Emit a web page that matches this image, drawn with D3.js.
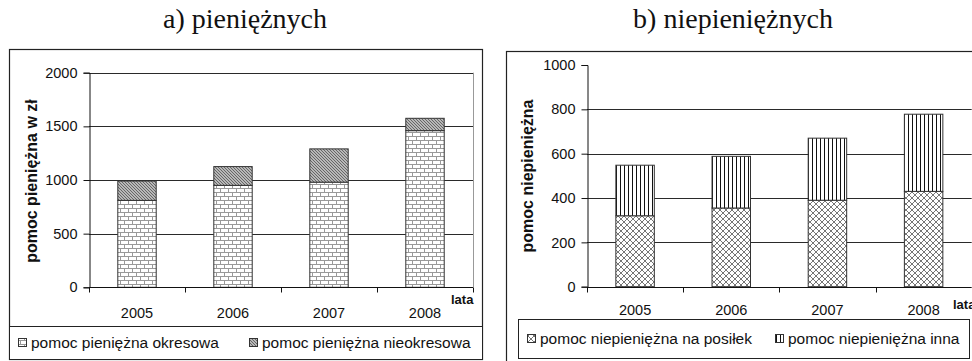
<!DOCTYPE html>
<html>
<head>
<meta charset="utf-8">
<script src="https://cdn.jsdelivr.net/npm/d3@7"></script>
<style>
  html, body { margin: 0; padding: 0; background: #fff; }
  svg { display: block; }
  text { font-family: "Liberation Sans", Arial, sans-serif; fill: #111; }
  .title { font-family: "Liberation Serif", "Times New Roman", serif; font-size: 28px; }
</style>
</head>
<body>
<svg id="chart" width="972" height="361"></svg>
<script>
// Years on the category axis (shared by both panels)
const years = ["2005", "2006", "2007", "2008"];

// a) cash assistance, PLN
const cashPeriodic = [810, 950, 980, 1460];
const cashOneOff = [180, 175, 310, 115];
const cashTicks = [0, 500, 1000, 1500, 2000];

// b) in-kind assistance
const inKindMeals = [320, 355, 390, 430];
const inKindOther = [228, 233, 280, 348];
const inKindTicks = [0, 200, 400, 600, 800, 1000];

const svg = d3.select("#chart");
const defs = svg.append("defs");

// ---- fill patterns ----
function brickPattern(id) {
  const p = defs.append("pattern").attr("id", id).attr("patternUnits", "userSpaceOnUse")
    .attr("width", 8).attr("height", 8);
  p.append("rect").attr("width", 8).attr("height", 8).attr("fill", "#fff");
  p.append("path").attr("d", "M0,0.5H8M0,4.5H8M0.5,0.5V4.5M4.5,4.5V8.5")
    .attr("stroke", "#999").attr("stroke-width", 1).attr("fill", "none");
}
function diagPattern(id) {
  const p = defs.append("pattern").attr("id", id).attr("patternUnits", "userSpaceOnUse")
    .attr("width", 3).attr("height", 3);
  p.append("rect").attr("width", 3).attr("height", 3).attr("fill", "#b8b8b8");
  p.append("path").attr("d", "M-1,-1L4,4M-1,2L1,4M2,-1L4,1")
    .attr("stroke", "#666").attr("stroke-width", 1);
}
function crossPattern(id) {
  const p = defs.append("pattern").attr("id", id).attr("patternUnits", "userSpaceOnUse")
    .attr("width", 6).attr("height", 6);
  p.append("rect").attr("width", 6).attr("height", 6).attr("fill", "#fff");
  p.append("path").attr("d", "M0,0L6,6M6,0L0,6")
    .attr("stroke", "#666").attr("stroke-width", 0.9);
}
function vlinePattern(id) {
  const p = defs.append("pattern").attr("id", id).attr("patternUnits", "userSpaceOnUse")
    .attr("width", 4).attr("height", 4);
  p.append("rect").attr("width", 4).attr("height", 4).attr("fill", "#fff");
  p.append("path").attr("d", "M0.5,0V4").attr("stroke", "#111").attr("stroke-width", 1);
}
brickPattern("brick");
diagPattern("diag");
crossPattern("cross");
vlinePattern("vline");

// ---- one stacked-bar panel ----
function panel(cfg) {
  const g = svg.append("g");

  // outer frame
  g.append("rect").attr("x", cfg.frame[0] + 0.5).attr("y", cfg.frame[1] + 0.5)
    .attr("width", cfg.frame[2]).attr("height", cfg.frame[3])
    .attr("fill", "none").attr("stroke", "#222").attr("stroke-width", 1.2);

  // title
  svg.append("text").attr("class", "title").attr("x", cfg.titleX).attr("y", 28)
    .attr("text-anchor", "middle").text(cfg.title);

  const x = d3.scaleBand().domain(years).range([cfg.left, cfg.right]).padding(0);
  const y = d3.scaleLinear().domain([0, cfg.max]).range([cfg.bottom, cfg.top]);

  // horizontal gridlines
  g.append("g").selectAll("line").data(cfg.grid).join("line")
    .attr("x1", cfg.left).attr("x2", cfg.right)
    .attr("y1", d => Math.round(y(d)) + 0.5).attr("y2", d => Math.round(y(d)) + 0.5)
    .attr("stroke", "#2a2a2a").attr("stroke-width", 1);

  if (cfg.rightBorder) {
    g.append("line").attr("x1", cfg.right + 0.5).attr("x2", cfg.right + 0.5)
      .attr("y1", cfg.top).attr("y2", cfg.bottom).attr("stroke", "#999");
  }

  // stacked bars
  const bw = x.bandwidth() * 0.4;
  const stack = years.map((yr, i) => ({ yr, a: cfg.lower[i], b: cfg.upper[i] }));
  const bars = g.append("g");
  bars.selectAll("rect.lo").data(stack).join("rect").attr("class", "lo")
    .attr("x", d => x(d.yr) + (x.bandwidth() - bw) / 2)
    .attr("width", bw)
    .attr("y", d => y(d.a)).attr("height", d => y(0) - y(d.a))
    .attr("fill", `url(#${cfg.lowerFill})`).attr("stroke", "#333").attr("stroke-width", 1);
  bars.selectAll("rect.hi").data(stack).join("rect").attr("class", "hi")
    .attr("x", d => x(d.yr) + (x.bandwidth() - bw) / 2)
    .attr("width", bw)
    .attr("y", d => y(d.a + d.b)).attr("height", d => y(d.a) - y(d.a + d.b))
    .attr("fill", `url(#${cfg.upperFill})`).attr("stroke", "#333").attr("stroke-width", 1);

  // y axis
  const ya = g.append("g").attr("transform", `translate(${cfg.left + 0.5},0)`)
    .call(d3.axisLeft(y).tickValues(cfg.ticks).tickSize(6).tickPadding(6).tickFormat(d3.format("d")));
  ya.select(".domain").attr("stroke", "#111");
  ya.selectAll(".tick line").attr("stroke", "#111");
  ya.selectAll(".tick text").attr("font-size", 14.5).attr("fill", "#111");

  // x axis: ticks at category boundaries, labels centred
  const xa = g.append("g").attr("transform", `translate(0,${Math.round(cfg.bottom) + 0.5})`);
  xa.append("line").attr("x1", cfg.left).attr("x2", cfg.right).attr("stroke", "#111");
  const bounds = years.map(d => x(d)).concat([cfg.right]);
  xa.selectAll("line.tk").data(bounds).join("line").attr("class", "tk")
    .attr("x1", d => Math.round(d) + 0.5).attr("x2", d => Math.round(d) + 0.5)
    .attr("y1", 0).attr("y2", 5).attr("stroke", "#111");
  xa.selectAll("text").data(years).join("text")
    .attr("x", d => x(d) + x.bandwidth() / 2).attr("y", cfg.labelDy)
    .attr("text-anchor", "middle").attr("font-size", 14.5).text(d => d);

  // axis titles
  g.append("text").attr("x", cfg.lataX).attr("y", cfg.lataY)
    .attr("font-size", 13).attr("font-weight", "bold").text("lata");
  g.append("text")
    .attr("transform", `translate(${cfg.yTitleX},${cfg.yTitleY}) rotate(-90)`)
    .attr("text-anchor", "middle").attr("font-size", 16).attr("font-weight", "bold")
    .text(cfg.yTitle);

  // legend
  const L = cfg.legend;
  g.append("rect").attr("x", L.box[0] + 0.5).attr("y", L.box[1] + 0.5)
    .attr("width", L.box[2]).attr("height", L.box[3])
    .attr("fill", "#fff").attr("stroke", "#222");
  L.items.forEach(it => {
    g.append("rect").attr("x", it.x + 0.5).attr("y", L.iconY + 0.5).attr("width", 8).attr("height", 8)
      .attr("fill", `url(#${it.fill})`).attr("stroke", "#333");
    g.append("text").attr("x", it.x + 13).attr("y", L.textY)
      .attr("font-size", 15.5).text(it.label);
  });
}

panel({
  title: "a) pieniężnych", titleX: 245,
  frame: [9, 49, 473, 310],
  left: 89, right: 473, top: 72.7, bottom: 287.3, max: 2000,
  ticks: cashTicks, grid: [500, 1000, 1500, 2000], rightBorder: true,
  lower: cashPeriodic, upper: cashOneOff, lowerFill: "brick", upperFill: "diag",
  labelDy: 30, lataX: 451, lataY: 304, yTitle: "pomoc pieniężna w zł", yTitleX: 37, yTitleY: 181,
  legend: {
    box: [9, 326, 473, 33], iconY: 338, textY: 348,
    items: [
      { x: 18, fill: "brick", label: "pomoc pieniężna okresowa" },
      { x: 249, fill: "diag", label: "pomoc pieniężna nieokresowa" }
    ]
  }
});

panel({
  title: "b) niepieniężnych", titleX: 733,
  frame: [506, 51, 480, 320],
  left: 587, right: 971.7, top: 65, bottom: 286.7, max: 1000,
  ticks: inKindTicks, grid: [200, 400, 600, 800], rightBorder: false,
  lower: inKindMeals, upper: inKindOther, lowerFill: "cross", upperFill: "vline",
  labelDy: 27, lataX: 953, lataY: 309, yTitle: "pomoc niepieniężna", yTitleX: 533, yTitleY: 176,
  legend: {
    box: [518, 319, 451, 39], iconY: 334, textY: 344,
    items: [
      { x: 527, fill: "cross", label: "pomoc niepieniężna na posiłek" },
      { x: 775, fill: "vline", label: "pomoc niepieniężna inna" }
    ]
  }
});
</script>
</body>
</html>
